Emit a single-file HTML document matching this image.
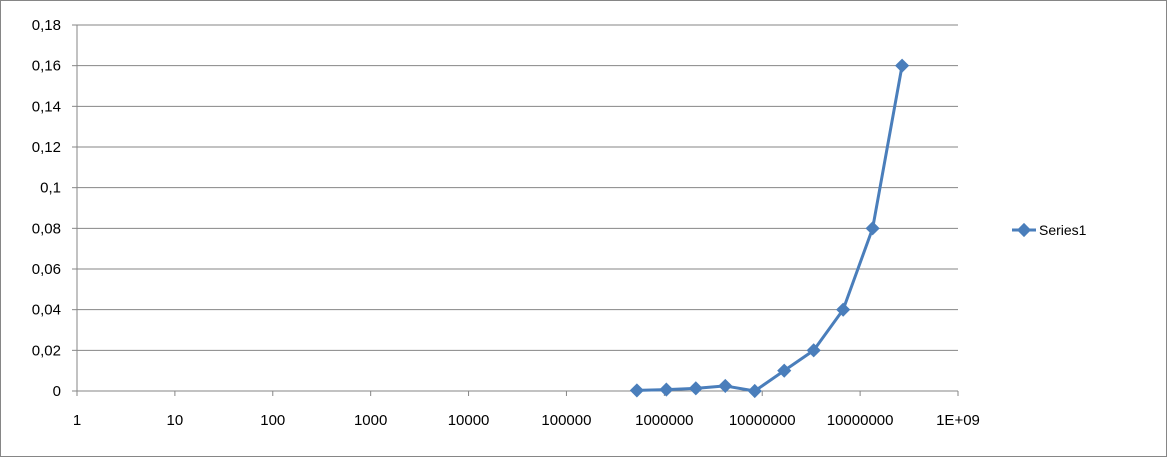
<!DOCTYPE html>
<html><head><meta charset="utf-8"><style>
body{margin:0;background:#fff;}
svg{display:block;font-family:"Liberation Sans",sans-serif;}
</style></head><body>
<svg id="chart" width="1167" height="457">
<rect x="0.5" y="0.5" width="1166" height="456" fill="#fff" stroke="#868686"/>
<g id="grid"></g><g id="axes"></g><g id="series"></g>
<g>
<line x1="1012" y1="230" x2="1036" y2="230" stroke="#4a7ebb" stroke-width="3"/>
<rect x="1019" y="225" width="10" height="10" fill="#4a7ebb" transform="rotate(45 1024 230)"/>
<text x="1039" y="235" font-size="14" fill="#000">Series1</text>
</g>
</svg>
<script>
const xTickLabels=["1","10","100","1000","10000","100000","1000000","10000000","10000000","1E+09"];
const yTickLabels=["0","0,02","0,04","0,06","0,08","0,1","0,12","0,14","0,16","0,18"];
const xValues=[524288,1048576,2097152,4194304,8388608,16777216,33554432,67108864,134217728,268435456];
const yValues=[0.0003,0.0007,0.0013,0.0025,0,0.01,0.02,0.04,0.08,0.16];
const NS="http://www.w3.org/2000/svg";
const X0=77,X1=958,Y0=391,Y1=25;
const xs=v=>X0+Math.log10(v)/9*(X1-X0);
const ys=v=>Y0-v/0.18*(Y0-Y1);
function mk(t,a,p){const e=document.createElementNS(NS,t);for(const k in a)e.setAttribute(k,a[k]);p.appendChild(e);return e;}
const grid=document.getElementById('grid'),axes=document.getElementById('axes'),ser=document.getElementById('series');
yTickLabels.forEach((l,i)=>{const v=i*0.02,y=ys(v);
 if(i>0){const g=mk('line',{x1:X0,x2:X1,y1:y,y2:y,stroke:'#868686','stroke-width':1},grid);
 
 }
 const tk=mk('line',{x1:X0-5,x2:X0,y1:y,y2:y,stroke:'#868686'},axes);
 
 
 const t=mk('text',{x:X0-16,y:y+5,'text-anchor':'end','font-size':15},axes);t.textContent=l;
 
 });
xTickLabels.forEach((l,i)=>{const x=xs(Math.pow(10,i));
 const tk=mk('line',{x1:x,x2:x,y1:Y0,y2:Y0+5,stroke:'#868686'},axes);
 
 
 const t=mk('text',{x:x,y:Y0+34,'text-anchor':'middle','font-size':15},axes);t.textContent=l;
 
 });
const ya=mk('line',{x1:X0,x2:X0,y1:Y1,y2:Y0,stroke:'#868686'},axes);


const xa=mk('line',{x1:X0,x2:X1,y1:Y0,y2:Y0,stroke:'#868686'},axes);


const pts=xValues.map((v,i)=>xs(v)+','+ys(yValues[i])).join(' ');
const pl=mk('polyline',{points:pts,fill:'none',stroke:'#4a7ebb','stroke-width':3,'stroke-linejoin':'round'},ser);


xValues.forEach((v,i)=>{const x=xs(v),y=ys(yValues[i]);
 const m=mk('rect',{x:x-5,y:y-5,width:10,height:10,fill:'#4a7ebb',transform:`rotate(45 ${x} ${y})`},ser);
 
 });
</script>
</body></html>
